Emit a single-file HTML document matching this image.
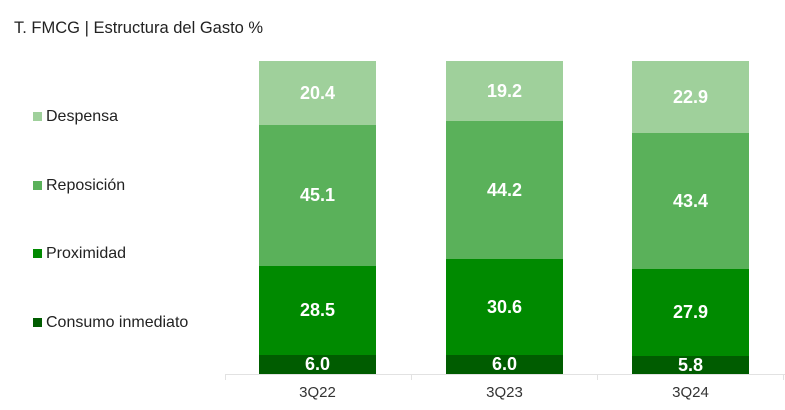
<html><head><style>
body{margin:0;width:785px;height:410px;background:#fff;position:relative;font-family:"Liberation Sans",sans-serif;overflow:hidden}
.a{position:absolute}
.s{position:absolute;width:117px;color:#fff;font-weight:bold;font-size:18px;display:flex;align-items:center;justify-content:center}
.lg{position:absolute;left:33px;font-size:16px;color:#222}
.lg i{display:inline-block;width:9px;height:9px;margin-right:4px}
.x{position:absolute;top:384px;width:117px;text-align:center;font-size:15px;color:#333}
</style></head><body>
<div class="a" style="left:14px;top:19px;font-size:16.5px;color:#222">T. FMCG | Estructura del Gasto %</div>
<div class="lg" style="top:108px"><i style="background:#9fd09b"></i>Despensa</div>
<div class="lg" style="top:177px"><i style="background:#5ab15a"></i>Reposición</div>
<div class="lg" style="top:245px"><i style="background:#008a00"></i>Proximidad</div>
<div class="lg" style="top:314px"><i style="background:#005c00"></i>Consumo inmediato</div>

<div class="s" style="left:259px;top:61px;height:64px;background:#9fd09b">20.4</div>
<div class="s" style="left:259px;top:125px;height:141px;background:#5ab15a">45.1</div>
<div class="s" style="left:259px;top:266px;height:89px;background:#008a00">28.5</div>
<div class="s" style="left:259px;top:355px;height:19px;background:#005c00">6.0</div>

<div class="s" style="left:446px;top:61px;height:60px;background:#9fd09b">19.2</div>
<div class="s" style="left:446px;top:121px;height:138px;background:#5ab15a">44.2</div>
<div class="s" style="left:446px;top:259px;height:96px;background:#008a00">30.6</div>
<div class="s" style="left:446px;top:355px;height:19px;background:#005c00">6.0</div>

<div class="s" style="left:632px;top:61px;height:72px;background:#9fd09b">22.9</div>
<div class="s" style="left:632px;top:133px;height:136px;background:#5ab15a">43.4</div>
<div class="s" style="left:632px;top:269px;height:87px;background:#008a00">27.9</div>
<div class="s" style="left:632px;top:356px;height:18px;background:#005c00">5.8</div>

<div class="a" style="left:225px;top:374px;width:560px;height:1px;background:#e2e2e2"></div>
<div class="a" style="left:225px;top:374px;width:1px;height:6px;background:#e2e2e2"></div>
<div class="a" style="left:411px;top:374px;width:1px;height:6px;background:#e2e2e2"></div>
<div class="a" style="left:597px;top:374px;width:1px;height:6px;background:#e2e2e2"></div>
<div class="a" style="left:783px;top:374px;width:1px;height:6px;background:#e2e2e2"></div>
<div class="x" style="left:259px">3Q22</div>
<div class="x" style="left:446px">3Q23</div>
<div class="x" style="left:632px">3Q24</div>
</body></html>
